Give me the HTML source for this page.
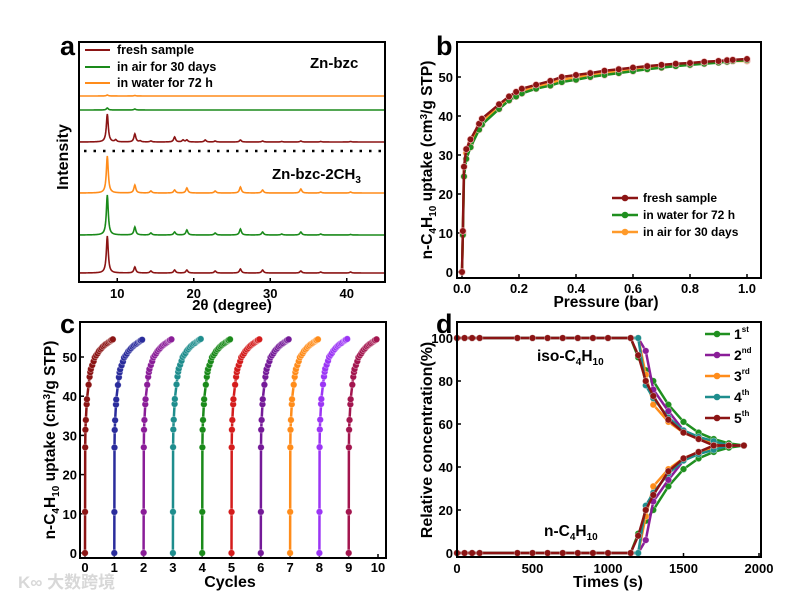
<!DOCTYPE html>
<html><head><meta charset="utf-8"><style>
html,body{margin:0;padding:0;background:#fff}
svg{display:block;font-family:"Liberation Sans",Arial,sans-serif;font-weight:bold}
</style></head><body>
<svg id="fig" width="788" height="600" viewBox="0 0 788 600" xmlns="http://www.w3.org/2000/svg">
<text x="18" y="588" font-size="17" fill="#d8d8d8" font-family="'Liberation Sans','Noto Sans CJK SC',sans-serif">K∞ 大数跨境</text>
</svg>
<script>
// ---------- Panel a data ----------
const aPeakPos = [8.7, 9.8, 12.3, 13.0, 14.4, 17.5, 18.6, 19.1, 21.5, 22.8, 26.1, 29.0, 31.5, 34.0, 36.6, 40.5];
const aFreshBzc = [28, 2, 8, 1, 1, 5, 2, 2, 2, 1, 2, 1, 0.5, 1, 0.5, 0.5];
const aAirBzc = [2, 0, 1, 0, 0, 0, 0, 0, 0, 0, 0, 0, 0, 0, 0, 0];
const aWaterBzc = [1, 0, 0.5, 0, 0, 0, 0, 0, 0, 0, 0, 0, 0, 0, 0, 0];
const aWaterMe = [37, 0, 8, 0, 2, 3, 0, 5, 0, 2, 6, 3, 0, 4, 1, 1];
const aAirMe = [40, 0, 8, 0, 2, 3, 0, 5, 0, 2, 6, 3, 1, 3, 1, 0.5];
const aFreshMe = [37, 0, 6, 0, 2, 3, 0, 3, 0, 2, 4, 3, 0, 2, 1, 1];
const aTicks = [10, 20, 30, 40];
// ---------- Panel b data ----------
const bPressure = [0,0.003,0.007,0.015,0.03,0.06,0.07,0.13,0.165,0.19,0.21,0.26,0.31,0.35,0.4,0.45,0.5,0.55,0.6,0.65,0.7,0.75,0.8,0.85,0.9,0.93,0.95,1.0];
const bFresh = [0,10.5,27,31.5,34,38,39.3,43,45,46.2,47,48,49,50,50.5,51,51.6,52,52.4,52.8,53.1,53.4,53.6,53.9,54.1,54.3,54.4,54.6];
const bWater = [0,9.5,24.5,29,32,36.5,37.8,41.8,44,45,45.8,47,47.8,48.7,49.3,50,50.5,51,51.5,52,52.4,52.8,53.1,53.4,53.7,53.9,54.1,54.3];
const bAir = [0,10,27,30.5,33,37.2,38.5,42.3,44.5,45.6,46.4,47.5,48.4,49.3,49.9,50.5,51,51.5,51.9,52.3,52.7,53,53.3,53.6,53.8,54,54.1,54.1];
const bXTicks = [0,0.2,0.4,0.6,0.8,1.0];
const bYTicks = [0,10,20,30,40,50];
// ---------- Panel c data ----------
const cCycles = [0,1,2,3,4,5,6,7,8,9];
const cUptakeStart = [0,0,0,0,0,0,0,0,0,0];
const cUptakeEnd = [54.5,54.4,54.5,54.6,54.5,54.5,54.5,54.5,54.6,54.5];
const cColors = ['#8b1414','#2a2c9c','#8a1d98','#1e8d8d','#1a8a1a','#d41c1c','#741a98','#ff8c1a','#9b35f5','#a3154e'];
const cXTicks = [0,1,2,3,4,5,6,7,8,9,10];
// ---------- Panel d data ----------
const dTime = [0,50,100,150,400,500,600,700,800,900,1000,1150,1200,1250,1300,1400,1500,1600,1700,1800,1900];
const dIso1 = [100,100,100,100,100,100,100,100,100,100,100,100,91,85,80,69,61,56,53,51,50];
const dIso2 = [100,100,100,100,100,100,100,100,100,100,100,100,100,94,76,66,57,53,51,50,50];
const dIso3 = [100,100,100,100,100,100,100,100,100,100,100,100,100,83,69,61,56,53,51,50,50];
const dIso4 = [100,100,100,100,100,100,100,100,100,100,100,100,100,78,72,63,57,54,52,50,50];
const dIso5 = [100,100,100,100,100,100,100,100,100,100,100,100,92,80,73,62,56,53,50,50,50];
const dN1 = [0,0,0,0,0,0,0,0,0,0,0,0,9,15,20,31,39,44,47,49,50];
const dN2 = [0,0,0,0,0,0,0,0,0,0,0,0,0,6,24,34,43,47,49,50,50];
const dN3 = [0,0,0,0,0,0,0,0,0,0,0,0,0,17,31,39,44,47,49,50,50];
const dN4 = [0,0,0,0,0,0,0,0,0,0,0,0,0,22,28,37,43,46,48,50,50];
const dN5 = [0,0,0,0,0,0,0,0,0,0,0,0,8,20,27,38,44,47,50,50,50];
const dXTicks = [0,500,1000,1500,2000];
const dYTicks = [0,20,40,60,80,100];
const dColors = ['#1f8f1f','#8a1d98','#ff8c1a','#1e8d8d','#8b1414'];
const dLegend = ['1','2','3','4','5'];
const dSup = ['st','nd','rd','th','th'];

const NS='http://www.w3.org/2000/svg';
const svg=document.getElementById('fig');
function mk(tag,attrs,parent){const e=document.createElementNS(NS,tag);for(const k in attrs)e.setAttribute(k,attrs[k]);(parent||svg).appendChild(e);return e;}
function txt(x,y,s,size,anchor,parent){const t=mk('text',{x:x,y:y,'font-size':size,'text-anchor':anchor||'start',fill:'#000'},parent);t.textContent=s;return t;}
function lin(d0,d1,r0,r1){return v=>r0+(v-d0)*(r1-r0)/(d1-d0);}
function frame(x0,y0,x1,y1,name){const r=mk('rect',{x:x0,y:y0,width:x1-x0,height:y1-y0,fill:'none',stroke:'#000','stroke-width':2});

}

// ===== Panel a =====
(function(){
const g=mk('g',{});


const X=lin(5,45,79,385);
frame(79,42,385,282,'panel-a-frame');
const series=[[aWaterBzc,96,'#ff8c1a','water-bzc-pattern'],[aAirBzc,110,'#1a8a1a','air-bzc-pattern'],[aFreshBzc,142,'#8b1414','fresh-bzc-pattern'],
[aWaterMe,193,'#ff8c1a','water-bzc2ch3-pattern'],[aAirMe,235,'#1a8a1a','air-bzc2ch3-pattern'],[aFreshMe,273,'#8b1414','fresh-bzc2ch3-pattern']];
series.forEach(s=>{let d='';for(let t=5;t<=45;t+=0.05){let v=0;aPeakPos.forEach((p,i)=>{const w=0.15;v+=s[0][i]*w*w/((t-p)*(t-p)+w*w);});d+=(d?'L':'M')+X(t).toFixed(2)+','+(s[1]-v).toFixed(2);}
const p=mk('path',{d:d,fill:'none',stroke:s[2],'stroke-width':1.6},g);

});
const dl=mk('line',{x1:84,y1:151,x2:385,y2:151,stroke:'#000','stroke-width':2.5,'stroke-dasharray':'2.5 7'},g);


aTicks.forEach(t=>{mk('line',{x1:X(t),y1:282,x2:X(t),y2:278,stroke:'#000','stroke-width':1.5},g);
const l=txt(X(t),298,t,13,'middle',g);

});
const xt=txt(232,310,'2θ (degree)',15,'middle',g);


const yt=txt(0,0,'Intensity',16,'middle',g);yt.setAttribute('transform','translate(68,157) rotate(-90)');


const la=txt(60,55,'a',27,'start',g);


[['fresh sample','#8b1414',50],['in air for 30 days','#1a8a1a',67],['in water for 72 h','#ff8c1a',83]].forEach(e=>{
const le=mk('g',{},g);


mk('line',{x1:85,y1:e[2],x2:110,y2:e[2],stroke:e[1],'stroke-width':2},le);txt(117,e[2]+4,e[0],12.5,'start',le);});
const z1=txt(310,68,'Zn-bzc',15,'start',g);


const z2=mk('text',{x:272,y:179,'font-size':15,fill:'#000'},g);z2.innerHTML='Zn-bzc-2CH<tspan font-size="10" dy="4">3</tspan>';


})();

function uptakeTitle(x,y,g){const t=mk('text',{'font-size':15.5,fill:'#000','text-anchor':'middle',transform:'translate('+x+','+y+') rotate(-90)'},g);
t.innerHTML='n-C<tspan font-size="10" dy="4">4</tspan><tspan dy="-4">H</tspan><tspan font-size="10" dy="4">10</tspan><tspan dy="-4"> uptake (cm</tspan><tspan font-size="10" dy="-5">3</tspan><tspan dy="5">/g STP)</tspan>';

}

// ===== Panel b =====
(function(){
const g=mk('g',{});


const X=lin(0,1,462,747),Y=lin(0,50,272,77);
frame(457,42,761,278,'panel-b-frame');
bXTicks.forEach(t=>{mk('line',{x1:X(t),y1:278,x2:X(t),y2:274,stroke:'#000','stroke-width':1.5},g);
const l=txt(X(t),293,t.toFixed(1),13,'middle',g);

});
bYTicks.forEach(t=>{mk('line',{x1:457,y1:Y(t),x2:461,y2:Y(t),stroke:'#000','stroke-width':1.5},g);
const l=txt(453,Y(t)+5,t,13,'end',g);

});
const xt=txt(606,307,'Pressure (bar)',15.5,'middle',g);


uptakeTitle(432,160,g);
const lb=txt(436,55,'b',27,'start',g);


[[bAir,'#ff9a2a','air-isotherm'],[bWater,'#1f8f1f','water-isotherm'],[bFresh,'#8b1414','fresh-isotherm']].forEach(s=>{
const sg=mk('g',{},g);


mk('path',{d:bPressure.map((p,i)=>(i?'L':'M')+X(p)+','+Y(s[0][i])).join(''),fill:'none',stroke:s[1],'stroke-width':2.5},sg);
bPressure.forEach((p,i)=>mk('circle',{cx:X(p),cy:Y(s[0][i]),r:3.3,fill:s[1],stroke:'#f3c0c0','stroke-width':0.6},sg));});
[['fresh sample','#8b1414',198],['in water for 72 h','#1f8f1f',215],['in air for 30 days','#ff9a2a',232]].forEach(e=>{
const le=mk('g',{},g);


mk('line',{x1:612,y1:e[2],x2:638,y2:e[2],stroke:e[1],'stroke-width':2.5},le);mk('circle',{cx:625,cy:e[2],r:3.3,fill:e[1]},le);txt(643,e[2]+4,e[0],12,'start',le);});
})();

// ===== Panel c =====
(function(){
const g=mk('g',{});


const X=lin(0,10,85,378),Y=lin(0,50,553,357);
frame(80,322,386,558,'panel-c-frame');
cXTicks.forEach(t=>{mk('line',{x1:X(t),y1:558,x2:X(t),y2:554,stroke:'#000','stroke-width':1.5},g);
const l=txt(X(t),572,t,13,'middle',g);

});
bYTicks.forEach(t=>{mk('line',{x1:80,y1:Y(t),x2:84,y2:Y(t),stroke:'#000','stroke-width':1.5},g);
const l=txt(77,Y(t)+5,t,13,'end',g);

});
const xt=txt(230,587,'Cycles',16,'middle',g);


uptakeTitle(55,440,g);
const lc=txt(60,333,'c',27,'start',g);


cCycles.forEach((c,k)=>{
const sg=mk('g',{},g);


const sc=(cUptakeEnd[k]-cUptakeStart[k])/bFresh[bFresh.length-1];
const pts=bPressure.map((p,i)=>[X(c+p*0.95),Y(cUptakeStart[k]+bFresh[i]*sc)]);
mk('path',{d:pts.map((q,i)=>(i?'L':'M')+q[0]+','+q[1]).join(''),fill:'none',stroke:cColors[k],'stroke-width':2.5},sg);
pts.forEach(q=>mk('circle',{cx:q[0],cy:q[1],r:3.3,fill:cColors[k],stroke:'#fff','stroke-opacity':0.5,'stroke-width':0.6},sg));});
})();

// ===== Panel d =====
(function(){
const g=mk('g',{});


const X=lin(0,2000,457,759),Y=lin(0,100,553,338);
frame(457,322,761,557,'panel-d-frame');
dXTicks.forEach(t=>{mk('line',{x1:X(t),y1:557,x2:X(t),y2:553,stroke:'#000','stroke-width':1.5},g);
const l=txt(X(t),573,t,13,'middle',g);

});
dYTicks.forEach(t=>{mk('line',{x1:457,y1:Y(t),x2:461,y2:Y(t),stroke:'#000','stroke-width':1.5},g);
const l=txt(453,Y(t)+5,t,13,'end',g);

});
const xt=txt(608,587,'Times (s)',16,'middle',g);


const yt=txt(0,0,'Relative concentration(%)',16,'middle',g);yt.setAttribute('transform','translate(432,440) rotate(-90)');


const ld=txt(436,333,'d',27,'start',g);


const iso=[dIso1,dIso2,dIso3,dIso4,dIso5],nn=[dN1,dN2,dN3,dN4,dN5];
for(let k=0;k<5;k++){[[iso[k],'iso'],[nn[k],'n']].forEach(s=>{
const sg=mk('g',{},g);


mk('path',{d:dTime.map((t,i)=>(i?'L':'M')+X(t)+','+Y(s[0][i])).join(''),fill:'none',stroke:dColors[k],'stroke-width':2.5},sg);
dTime.forEach((t,i)=>mk('circle',{cx:X(t),cy:Y(s[0][i]),r:3.3,fill:dColors[k],stroke:'#fff','stroke-opacity':0.5,'stroke-width':0.6},sg));});}
dLegend.forEach((s,k)=>{const y=334+k*21;
const le=mk('g',{},g);


mk('line',{x1:705,y1:y,x2:730,y2:y,stroke:dColors[k],'stroke-width':2.5},le);mk('circle',{cx:717,cy:y,r:3.3,fill:dColors[k]},le);
const t=mk('text',{x:734,y:y+5,'font-size':14,fill:'#000'},le);t.innerHTML=s+'<tspan font-size="8" dy="-7">'+dSup[k]+'</tspan>';});
const t1=mk('text',{x:537,y:361,'font-size':15.5,fill:'#000'},g);t1.innerHTML='iso-C<tspan font-size="10" dy="4">4</tspan><tspan dy="-4">H</tspan><tspan font-size="10" dy="4">10</tspan>';


const t2=mk('text',{x:544,y:536,'font-size':15.5,fill:'#000'},g);t2.innerHTML='n-C<tspan font-size="10" dy="4">4</tspan><tspan dy="-4">H</tspan><tspan font-size="10" dy="4">10</tspan>';


})();
</script>
</body></html>
